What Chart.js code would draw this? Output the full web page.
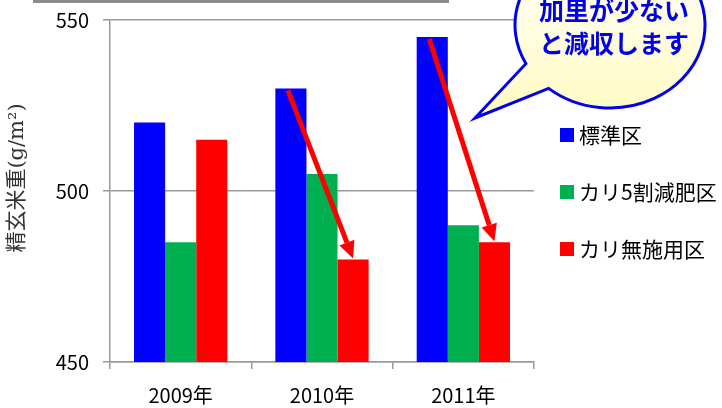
<!DOCTYPE html>
<html>
<head>
<meta charset="utf-8">
<script src="https://cdn.jsdelivr.net/npm/chart.js@4.4.1/dist/chart.umd.min.js"></script>
<style>
  html, body { margin: 0; padding: 0; background: #fff; }
  #wrap { position: relative; width: 722px; height: 408px; overflow: hidden; }
  #topRule { position: absolute; left: 33px; top: 0; width: 416px; height: 3px; background: #8c8c8c; }
</style>
</head>
<body>
<div id="wrap">
  <canvas id="myChart" width="722" height="408"></canvas>
  <div id="topRule"></div>
</div>
<script>
const years = ['2009年', '2010年', '2011年'];
const seriesNames = ['標準区', 'カリ5割減肥区', 'カリ無施用区'];
const standard = [520, 530, 545];
const halfPotash = [485, 505, 490];
const noPotash = [515, 480, 485];
const yTicks = [450, 500, 550];
const arrowYears = [1, 2]; // 2010年, 2011年
const yTitle = '精玄米重(g/m²)';
const calloutLines = ['加里が少ない', 'と減収します'];

const colors = ['#0000ff', '#00b050', '#ff0000'];
const jpFont = '"Noto Sans CJK JP", "Noto Sans", sans-serif';

// red arrows from the 標準区 bar to the カリ無施用区 bar
const arrowPlugin = {
  id: 'dropArrows',
  afterDatasetsDraw(chart) {
    const ctx = chart.ctx;
    const blue = chart.getDatasetMeta(0).data;
    const red = chart.getDatasetMeta(2).data;
    ctx.save();
    ctx.strokeStyle = '#ff0000';
    ctx.fillStyle = '#ff0000';
    ctx.lineWidth = 5;
    arrowYears.forEach(i => {
      const x1 = blue[i].x - 3, y1 = blue[i].y + 2;
      const x2 = red[i].x, y2 = red[i].y - 1;
      const ang = Math.atan2(y2 - y1, x2 - x1);
      const headLen = 17, headHalf = 8;
      const bx = x2 - headLen * Math.cos(ang), by = y2 - headLen * Math.sin(ang);
      ctx.beginPath();
      ctx.moveTo(x1, y1);
      ctx.lineTo(bx, by);
      ctx.stroke();
      ctx.beginPath();
      ctx.moveTo(x2, y2);
      ctx.lineTo(bx + headHalf * Math.sin(ang), by - headHalf * Math.cos(ang));
      ctx.lineTo(bx - headHalf * Math.sin(ang), by + headHalf * Math.cos(ang));
      ctx.closePath();
      ctx.fill();
    });
    ctx.restore();
  }
};

// speech bubble, legend and the rotated y title
const decorPlugin = {
  id: 'decor',
  afterDraw(chart) {
    const ctx = chart.ctx;
    ctx.save();

    // y title
    ctx.save();
    ctx.translate(18, 178);
    ctx.rotate(-Math.PI / 2);
    ctx.fillStyle = '#333';
    ctx.font = '21px "DejaVu Serif", "Noto Sans CJK JP", serif';
    ctx.textAlign = 'center';
    ctx.textBaseline = 'middle';
    ctx.fillText(yTitle, 0, 0);
    ctx.restore();

    // legend
    ctx.font = '21px ' + jpFont;
    ctx.textBaseline = 'middle';
    ctx.textAlign = 'left';
    chart.data.datasets.forEach((ds, k) => {
      const cy = 135 + k * 57;
      ctx.fillStyle = ds.backgroundColor;
      ctx.fillRect(560, cy - 7, 14, 14);
      ctx.fillStyle = '#000';
      ctx.fillText(ds.label, 579, cy);
    });

    // callout bubble with its tail pointing down-left
    const cx = 610, cyb = 25, rx = 95, ry = 83;
    const grad = ctx.createLinearGradient(0, cyb - ry, 0, cyb + ry);
    grad.addColorStop(0, '#ffffff');
    grad.addColorStop(1, '#fffbc4');
    const a1 = Math.atan2((65 - cyb) / ry, (523 - cx) / rx);
    const a2 = Math.atan2((90 - cyb) / ry, (547 - cx) / rx);
    ctx.beginPath();
    ctx.ellipse(cx, cyb, rx, ry, 0, a1, a2 + 2 * Math.PI, false);
    ctx.lineTo(475, 118);
    ctx.closePath();
    ctx.fillStyle = grad;
    ctx.fill();
    ctx.strokeStyle = '#0000ee';
    ctx.lineWidth = 3;
    ctx.lineJoin = 'miter';
    ctx.stroke();

    ctx.fillStyle = '#0000ee';
    ctx.font = 'bold 25px ' + jpFont;
    ctx.textAlign = 'center';
    ctx.fillText(calloutLines[0], 614, 10);
    ctx.fillText(calloutLines[1], 614, 43);

    ctx.restore();
  }
};

new Chart(document.getElementById('myChart'), {
  type: 'bar',
  data: {
    labels: years,
    datasets: [
      { label: seriesNames[0], data: standard, backgroundColor: colors[0] },
      { label: seriesNames[1], data: halfPotash, backgroundColor: colors[1] },
      { label: seriesNames[2], data: noPotash, backgroundColor: colors[2] }
    ]
  },
  options: {
    responsive: false,
    animation: false,
    layout: { padding: { left: 0, top: 20, right: 188, bottom: 0 } },
    datasets: { bar: { categoryPercentage: 0.66, barPercentage: 1.0 } },
    plugins: {
      legend: { display: false },
      tooltip: { enabled: false }
    },
    scales: {
      x: {
        offset: true,
        grid: { drawOnChartArea: false, drawTicks: true, tickLength: 7, color: '#999', lineWidth: 1.5 },
        border: { color: '#999', width: 1.5 },
        ticks: { color: '#000', font: { family: jpFont, size: 20 }, padding: 14 },
        afterFit(scale) { scale.height = 46; }
      },
      y: {
        min: 450,
        max: 550,
        afterBuildTicks(scale) { scale.ticks = yTicks.map(v => ({ value: v })); },
        grid: { color: '#999', lineWidth: 1.5, tickLength: 7 },
        border: { color: '#999', width: 1.5 },
        ticks: { color: '#000', font: { family: jpFont, size: 20 }, padding: 14 },
        afterFit(scale) {
          scale.width = 110;
          scale.paddingTop = 0;
          scale.paddingBottom = 0;
        }
      }
    }
  },
  plugins: [arrowPlugin, decorPlugin]
});
</script>
</body>
</html>
